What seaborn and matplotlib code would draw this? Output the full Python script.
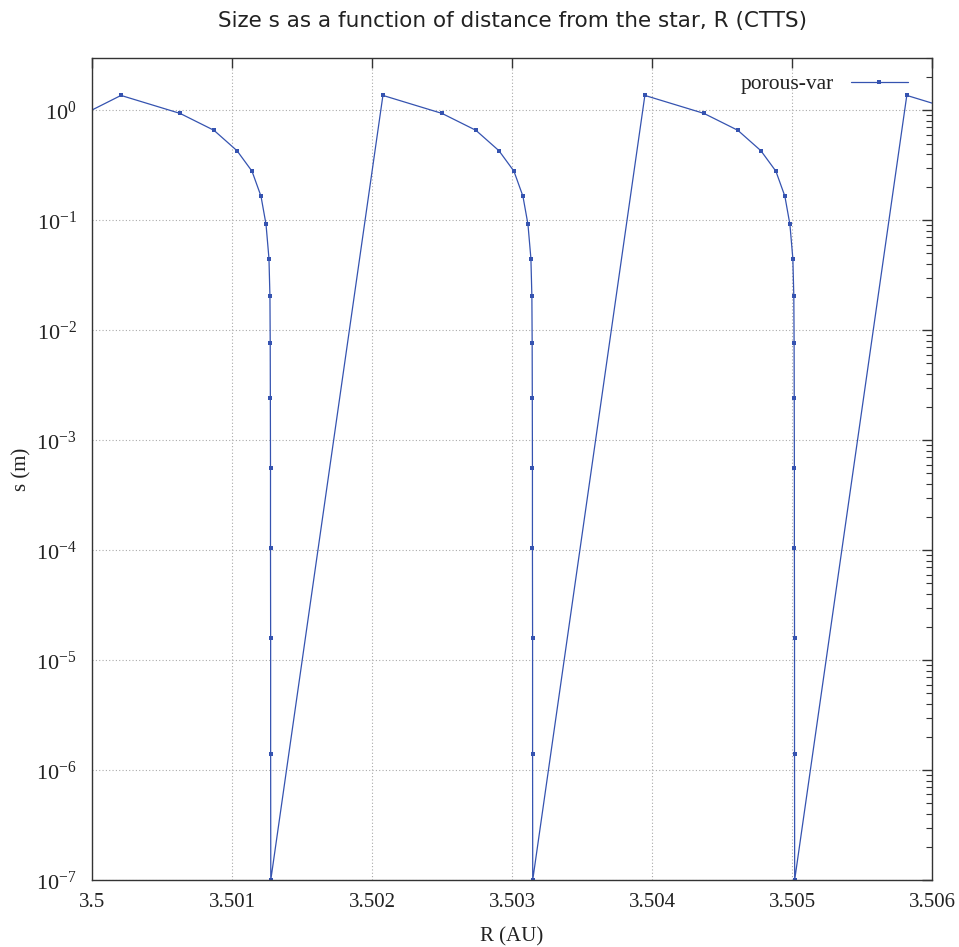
import matplotlib
matplotlib.use("Agg")
import matplotlib.pyplot as plt
import matplotlib.ticker as mticker
import numpy as np
import pandas as pd
import seaborn as sns

# distance from the star (AU)
r_start = [3.49998]
r_cycle1 = [3.500207, 3.500629, 3.500871, 3.501036, 3.501143, 3.501207, 3.501243, 3.501264,
            3.501271, 3.501273, 3.501274, 3.501275, 3.501275, 3.501276, 3.501276, 3.501277]
r_cycle2 = [3.502078, 3.502500, 3.502742, 3.502907, 3.503014, 3.503078, 3.503114, 3.503135,
            3.503142, 3.503144, 3.503145, 3.503146, 3.503146, 3.503147, 3.503147, 3.503148]
r_cycle3 = [3.503949, 3.504371, 3.504613, 3.504778, 3.504885, 3.504949, 3.504985, 3.505006,
            3.505013, 3.505015, 3.505016, 3.505017, 3.505017, 3.505018, 3.505018, 3.505019]
r_end = [3.505820, 3.506242]

# size (m)
s_start = [0.98]
s_cycle = [1.37, 0.94, 0.66, 0.43, 0.28, 0.166, 0.092, 0.045, 0.0204, 0.0076, 0.0024,
           5.6e-4, 1.05e-4, 1.6e-5, 1.4e-6, 1e-7]
s_end = [1.37, 0.94]

x_ticks = [3.5, 3.501, 3.502, 3.503, 3.504, 3.505, 3.506]
x_tick_labels = ["3.5", "3.501", "3.502", "3.503", "3.504", "3.505", "3.506"]
y_ticks = [1e-7, 1e-6, 1e-5, 1e-4, 1e-3, 1e-2, 1e-1, 1e0]
y_tick_labels = [r"$10^{-7}$", r"$10^{-6}$", r"$10^{-5}$", r"$10^{-4}$",
                 r"$10^{-3}$", r"$10^{-2}$", r"$10^{-1}$", r"$10^{0}$"]

R = r_start + r_cycle1 + r_cycle2 + r_cycle3 + r_end
S = s_start + s_cycle + s_cycle + s_cycle + s_end
df = pd.DataFrame({"R": R, "s": S, "series": "porous-var"})

sns.set_style("white")
serif = ["Liberation Serif", "DejaVu Serif"]
plt.rcParams["mathtext.fontset"] = "custom"
plt.rcParams["mathtext.rm"] = "Liberation Serif"
plt.rcParams["mathtext.it"] = "Liberation Serif:italic"

fig = plt.figure(figsize=(9.59, 9.47), dpi=100)
ax = fig.add_axes([92 / 959, 1 - 880 / 947, (932 - 92) / 959, (880 - 58) / 947])

color = "#3553b0"
sns.lineplot(data=df, x="R", y="s", sort=False, estimator=None, ax=ax,
             color=color, linewidth=0.9, marker="s", markersize=3.5,
             markeredgewidth=0, label="porous-var")

ax.set_yscale("log")
ax.set_xlim(3.5, 3.506)
ax.set_ylim(1e-7, 3.0)

ax.set_xticks(x_ticks)
ax.set_xticklabels(x_tick_labels, fontfamily=serif, fontsize=15)
ax.set_yticks(y_ticks)
ax.set_yticklabels(y_tick_labels, fontsize=16)
ax.yaxis.set_minor_locator(mticker.LogLocator(base=10, subs=np.arange(2, 10), numticks=20))
ax.yaxis.set_minor_formatter(mticker.NullFormatter())

ax.tick_params(which="both", direction="in", top=True, right=True, colors="#333333")
ax.tick_params(which="major", length=7, width=1)
ax.tick_params(which="minor", length=4, width=0.8)
ax.tick_params(axis="y", labelcolor="#222222", pad=11)
ax.tick_params(axis="x", labelcolor="#222222", pad=9)

ax.grid(True, which="major", linestyle=(0, (1, 2)), color="#aaaaaa", linewidth=0.8)
for sp in ax.spines.values():
    sp.set_color("#333333")
    sp.set_linewidth(1.0)

ax.set_xlabel("R (AU)", fontfamily=serif, fontsize=15, color="#222222")
ax.set_ylabel("s (m)", fontfamily=serif, fontsize=15, color="#222222")
ax.xaxis.set_label_coords(0.5, -(937 - 880) / 822, transform=ax.transAxes)
ax.xaxis.label.set_va("center")
ax.yaxis.set_label_coords(-(92 - 22) / 840, 0.5, transform=ax.transAxes)
ax.yaxis.label.set_va("center")
ax.set_title("Size s as a function of distance from the star, R (CTTS)",
             fontfamily="DejaVu Sans", fontsize=15.5, color="#222222", pad=22)

leg = ax.legend(loc="upper right", bbox_to_anchor=(1 - 8 / 840, 1.0), frameon=False,
                markerfirst=False, prop={"family": serif, "size": 15.5},
                handlelength=2.65, handletextpad=0.8, borderaxespad=0.35)
for t in leg.get_texts():
    t.set_color("#222222")

fig.savefig("out.png", dpi=100)
